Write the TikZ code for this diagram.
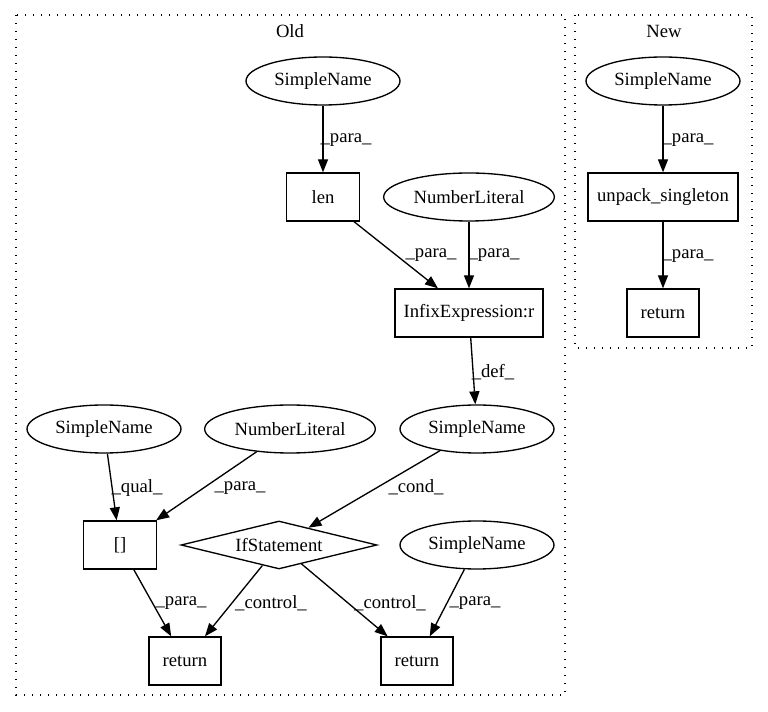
\documentclass[tikz,border=0pt]{standalone}
\usepackage{fontspec}
\setmainfont{Liberation Serif}
\usetikzlibrary{shapes.geometric,arrows.meta}
\begin{document}
\begin{tikzpicture}[x=0.75pt,y=-0.75pt,
  every node/.style={font=\fontsize{14}{16}\selectfont, inner sep=0pt},
  box/.style={draw, line width=1pt, rectangle, minimum height=36pt},
  ell/.style={draw, line width=1pt, ellipse, minimum height=36pt},
  dia/.style={draw, line width=1pt, diamond, aspect=4, minimum width=147pt, minimum height=36pt},
  arr/.style={line width=1pt, -{Triangle[length=9.75pt,width=7.5pt]}},
  clus/.style={line width=1pt, dash pattern=on 1pt off 5pt}]
\useasboundingbox (0,0) rectangle (768,712);
% clusters
\draw[clus] (16,15) rectangle (565,695);
\node (oldlbl) at (290,31) {Old};
\draw[clus] (575,15) rectangle (752,348);
\node (newlbl) at (664,31) {New};
% Old nodes
\node[ell, minimum width=115.5pt] (sn1) at (323,81) {SimpleName};
\node[box, minimum width=55pt] (len) at (323,197) {len};
\node[ell, minimum width=128pt] (nl1) at (469,197) {NumberLiteral};
\node[box, minimum width=111pt] (infix) at (469,313) {InfixExpression:r};
\node[ell, minimum width=115.5pt] (sn2) at (477,429) {SimpleName};
\node[ell, minimum width=115.5pt] (sn3) at (104,429) {SimpleName};
\node[ell, minimum width=128pt] (nl2) at (290,429) {NumberLiteral};
\node[box, minimum width=55pt] (idx) at (120,545) {[]};
\node[dia] (ifs) at (279,545) {IfStatement};
\node[ell, minimum width=115.5pt] (sn4) at (477,545) {SimpleName};
\node[box, minimum width=54pt] (ret1) at (185,661) {return};
\node[box, minimum width=54pt] (ret2) at (417,661) {return};
% New nodes
\node[ell, minimum width=115.5pt] (sn5) at (663,81) {SimpleName};
\node[box, minimum width=112.5pt] (unp) at (663,197) {unpack\_singleton};
\node[box, minimum width=54pt] (ret3) at (663,313) {return};
% edges
\draw[arr] (sn1) -- (len);
\draw[arr] (len) -- (infix);
\draw[arr] (nl1) -- (infix);
\draw[arr] (infix) -- (sn2);
\draw[arr] (sn2) -- (ifs);
\draw[arr] (sn3) -- (idx);
\draw[arr] (nl2) -- (idx);
\draw[arr] (idx) -- (ret1);
\draw[arr] (ifs) -- (ret1);
\draw[arr] (ifs) -- (ret2);
\draw[arr] (sn4) -- (ret2);
\draw[arr] (sn5) -- (unp);
\draw[arr] (unp) -- (ret3);
% edge labels
\node (l1) at (346,140) {\_para\_};
\node (l2) at (431,255) {\_para\_};
\node (l3) at (494,255) {\_para\_};
\node (l4) at (493,372) {\_def\_};
\node (l5) at (416,487) {\_cond\_};
\node (l6) at (137,488) {\_qual\_};
\node (l7) at (240,488) {\_para\_};
\node (l8) at (181,603) {\_para\_};
\node (l9) at (271,603) {\_control\_};
\node (l10) at (390,603) {\_control\_};
\node (l11) at (475,603) {\_para\_};
\node (l12) at (688,140) {\_para\_};
\node (l13) at (688,256) {\_para\_};
\end{tikzpicture}
\end{document}
